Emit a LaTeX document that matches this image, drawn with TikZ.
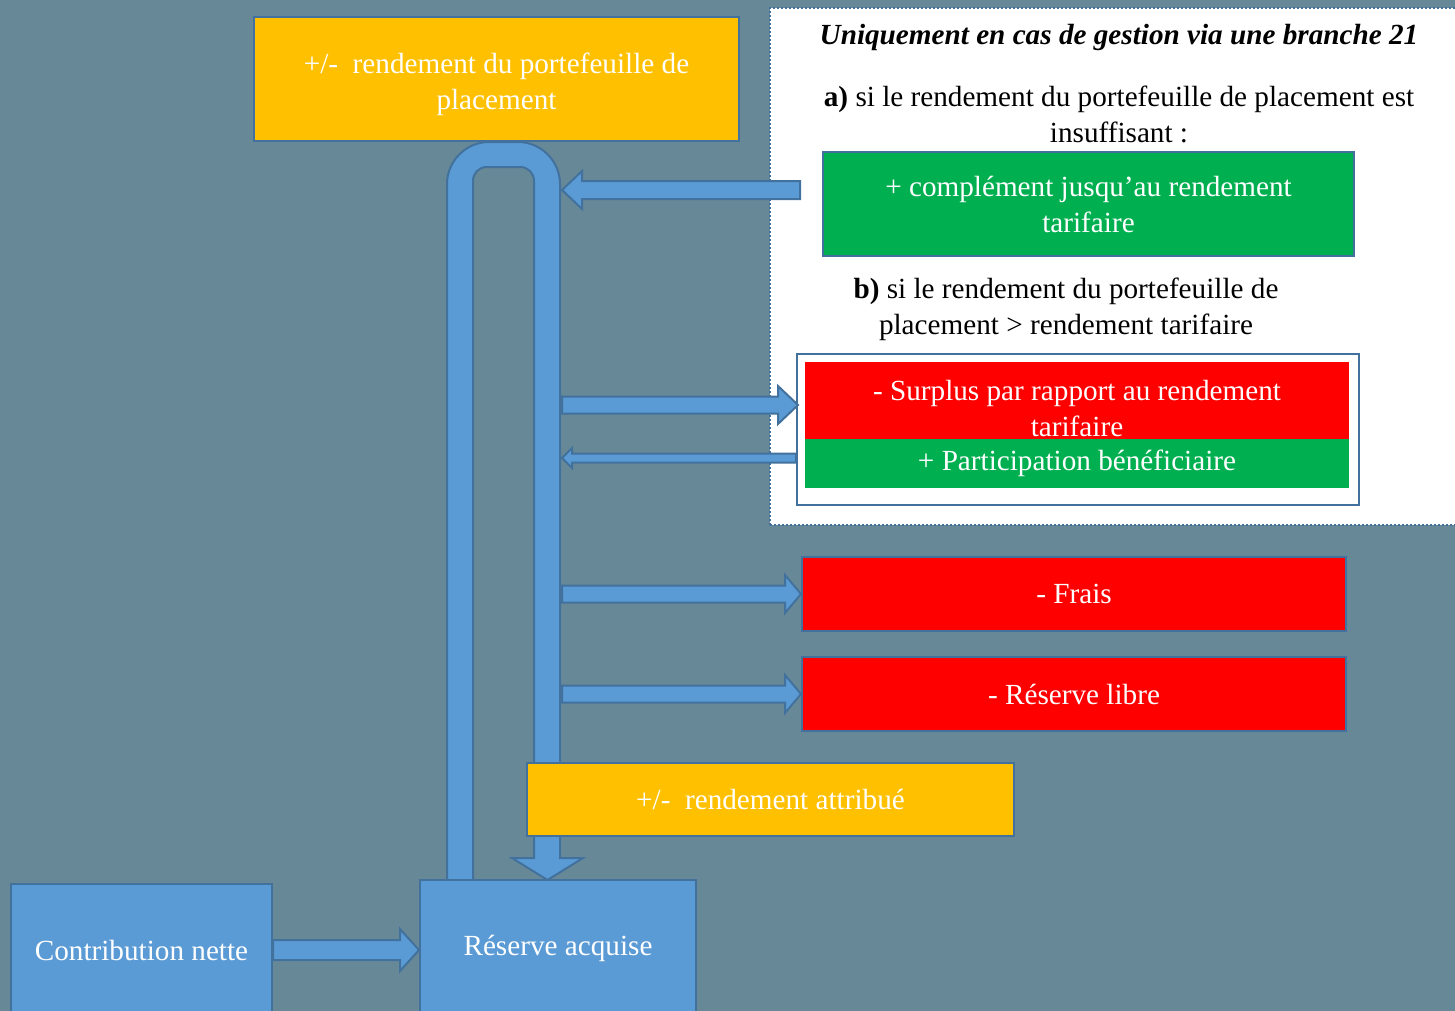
\documentclass[tikz,border=0pt]{standalone}
\usepackage{fontspec}
\setmainfont{Liberation Serif}
\usetikzlibrary{calc,positioning}

\definecolor{slate}{RGB}{103,137,151}
\definecolor{flowblue}{RGB}{91,155,213}
\definecolor{edgeblue}{RGB}{65,113,156}
\definecolor{gold}{RGB}{255,192,0}
\definecolor{okgreen}{RGB}{0,176,80}
\definecolor{alertred}{RGB}{255,0,0}

\tikzset{
  box/.style={draw=edgeblue,line width=1pt,text=white,align=center,inner sep=0pt,font=\fontsize{14.6}{18}\selectfont},
  notetext/.style={text=black,align=center,inner sep=0pt,font=\fontsize{14.6}{18}\selectfont},
  flowarrow/.style={fill=flowblue,draw=edgeblue,line width=1pt,line join=miter},
}

% block arrow: start, tip, half shaft, half head, head length
\newcommand{\blockarrow}[5]{%
  \coordinate (hb) at ($(#2)!#5!(#1)$);
  \draw[flowarrow] ($(#1)!#3!90:(#2)$) -- ($(hb)!#3!-90:(#1)$) -- ($(hb)!#4!-90:(#1)$) -- (#2)
    -- ($(hb)!#4!90:(#1)$) -- ($(hb)!#3!90:(#1)$) -- ($(#1)!#3!-90:(#2)$) -- cycle;
}

\begin{document}
\begin{tikzpicture}[x=0.5pt,y=-0.5pt]
  \fill[slate] (0,0) rectangle (1455,1011);
  \clip (0,0) rectangle (1455,1011);

  % note area (branche 21)
  \node[draw=edgeblue,densely dotted,line width=1pt,fill=white,minimum width=346pt,minimum height=258.5pt] (note) at (1116,266.5) {};

  % U tube
  \draw[flowarrow] (447,880) -- (447,184) .. controls (447,161) and (466,142) .. (489,142) -- (518,142)
    .. controls (541,142) and (560,161) .. (560,184) -- (560,858) -- (583,858) -- (547.5,880) -- (512,858)
    -- (534,858) -- (534,181) .. controls (534,173) and (528,167) .. (520,167) -- (487,167)
    .. controls (479,167) and (473,173) .. (473,181) -- (473,880) -- cycle;

  % boxes
  \node[box,fill=gold,minimum width=242.5pt,minimum height=62pt,text height=31pt,text depth=0pt] (topyield) at (496.5,79) {+/-\ \ rendement du portefeuille de\\placement};
  \node[box,fill=okgreen,minimum width=265.5pt,minimum height=52pt] (compl) at (1088.5,204) {+ complément jusqu’au rendement\\tarifaire};
  \node[box,fill=white,minimum width=281pt,minimum height=75.5pt] (bbox) at (1078,429.5) {};
  \node[box,draw=none,fill=alertred,minimum width=272pt,minimum height=38.5pt,text height=36pt,text depth=0pt] (surplus) at (1077,400.5) {- Surplus par rapport au rendement\\tarifaire};
  \node[box,draw=none,fill=okgreen,minimum width=272pt,minimum height=24.5pt] (particip) at (1077,463.5) {+ Participation bénéficiaire};
  \node[box,fill=alertred,minimum width=272pt,minimum height=37pt] (frais) at (1074,594) {- Frais};
  \node[box,fill=alertred,minimum width=272pt,minimum height=37pt] (libre) at (1074,694) {- Réserve libre};
  \node[box,fill=gold,minimum width=243.5pt,minimum height=36.5pt] (attrib) at (770.5,799.5) {+/-\ \ rendement attribué};
  \node[box,fill=flowblue,minimum width=130.5pt,minimum height=66pt] (contrib) at (141.5,950) {Contribution nette};
  \node[box,fill=flowblue,minimum width=138pt,minimum height=68pt] (reserve) at (558,948) {Réserve acquise};

  % texts of the note
  \node[notetext] (title) at (1119,37) {\bfseries\itshape Uniquement en cas de gestion via une branche 21};
  \node[notetext] (casea) at (1119,114) {\textbf{a)} si le rendement du portefeuille de placement est\\insuffisant :};
  \node[notetext] (caseb) at (1066,309) {\textbf{b)} si le rendement du portefeuille de\\placement > rendement tarifaire};

  % arrows
  \coordinate (tubeR) at (562,0);
  \coordinate (aIn) at ($(compl.west)+(-22,-14)$);
  \coordinate (bOut) at ($(bbox.west)+(2,-24.5)$);
  \coordinate (bIn) at ($(bbox.west)+(0,28.5)$);
  \blockarrow{aIn}{tubeR |- aIn}{4.5pt}{9.5pt}{10pt}
  \blockarrow{tubeR |- bOut}{bOut}{4.25pt}{9.5pt}{10pt}
  \blockarrow{bIn}{tubeR |- bIn}{2.25pt}{5pt}{5pt}
  \blockarrow{tubeR |- frais.west}{frais.west}{4.25pt}{9.5pt}{8pt}
  \blockarrow{tubeR |- libre.west}{libre.west}{4.25pt}{9.5pt}{8pt}
  \blockarrow{contrib.east}{reserve.west |- contrib.east}{5pt}{10.5pt}{9.5pt}
\end{tikzpicture}
\end{document}
